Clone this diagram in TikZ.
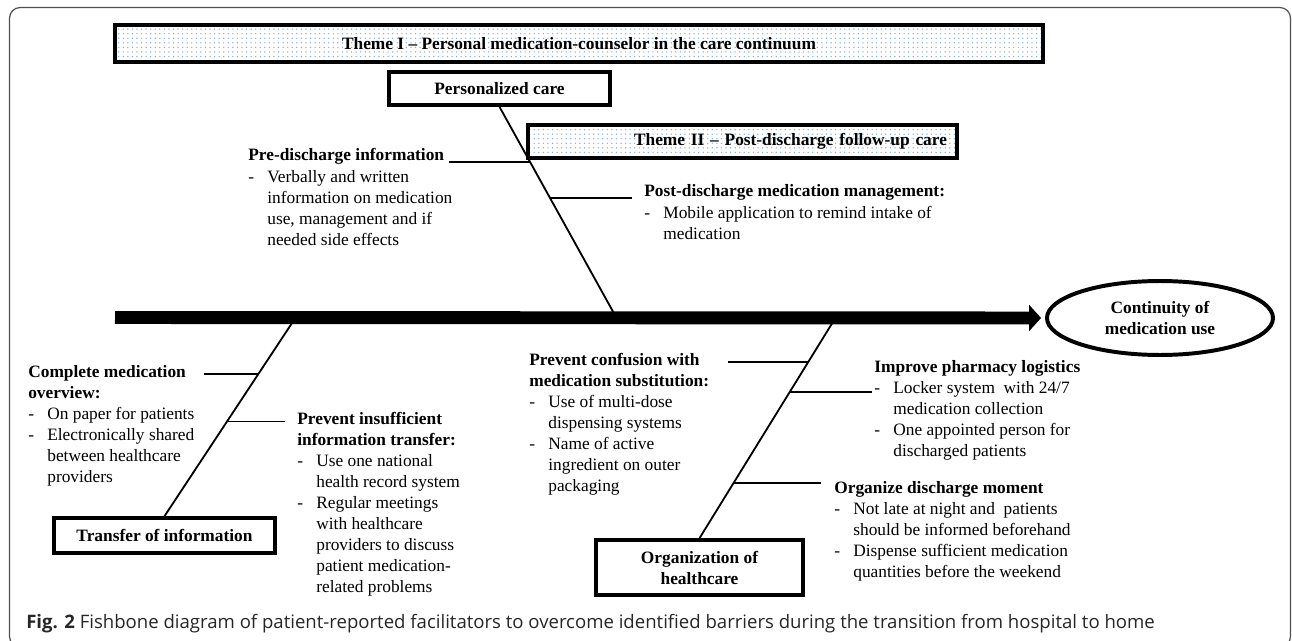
\documentclass[tikz,border=0pt]{standalone}
\usepackage{fontspec}
\setmainfont{Liberation Serif}
\newfontfamily\capfont{Open Sans}
\usetikzlibrary{arrows.meta,shapes.geometric,patterns}

\definecolor{dotblue}{RGB}{140,175,215}
\definecolor{framegray}{RGB}{80,80,80}

\newcommand{\itm}{\makebox[12.5pt][l]{-}}
\newcommand{\ind}{\hspace*{12.5pt}}

\begin{document}
\begin{tikzpicture}[
        x=0.657pt, y=-0.657pt, % one unit = one pixel of the layout
        font=\fontsize{11.4}{13.8}\selectfont,
        box/.style={draw, line width=2.4pt, fill=white, inner sep=0pt, align=center,
            font=\fontsize{11.4}{13.8}\selectfont\bfseries}, % Category boxes
        theme/.style={box, pattern=dots, pattern color=dotblue}, % Theme banners
        goal/.style={ellipse, draw, line width=2.6pt, inner sep=0pt, align=center,
            minimum width=148.5pt, minimum height=48.6pt,
            font=\fontsize{11.4}{13.8}\selectfont\bfseries}, % Fish head
        note/.style={anchor=base west, inner sep=0pt}, % Facilitator lists
        bone/.style={line width=1.2pt},
    ]

    \useasboundingbox (0,0) rectangle (1292,641);
    \begin{scope}
        \clip (0,0) rectangle (1292,641);
        \draw[framegray, line width=0.8pt, rounded corners=7pt] (9.5,7.5) rectangle (1290.5,647);
    \end{scope}

    % head, themes and categories
    \node[goal] (cmu) at (1160,318) {Continuity of\\medication use};
    \node[theme, minimum width=609.7pt, minimum height=24.3pt] (th1) at (579,43.5)
        {Theme I -- Personal medication-counselor in the care continuum};
    \node[box, minimum width=145.2pt, minimum height=21.7pt] (pc) at (499.5,88.5) {Personalized care};
    \node[box, minimum width=145.2pt, minimum height=23pt] (ti) at (164.5,535.5) {Transfer of information};
    \node[box, minimum width=136pt, minimum height=36.1pt] (oh) at (699.5,567.5) {Organization of\\healthcare};

    % bones
    \coordinate (up) at (616,317);
    \coordinate (lo1) at (296,317);
    \coordinate (lo2) at (836,317);
    \draw[bone] (pc.south) -- (up) coordinate[pos=0.262] (j1) coordinate[pos=0.433] (j2);
    \draw[bone] (lo1) -- (ti.north) coordinate[pos=0.285] (j3) coordinate[pos=0.525] (j4);
    \draw[bone] (lo2) -- (oh.north) coordinate[pos=0.203] (j5) coordinate[pos=0.338] (j6)
        coordinate[pos=0.752] (j7);

    \node[theme, minimum height=21.7pt, text width=268.7pt, inner xsep=6.6pt, align=right] (th2)
        at (742.5,141.5) {Theme II -- Post-discharge follow-up care};

    \coordinate (tail) at (115,317.5);
    \draw[line width=8.5pt, -{Triangle[length=7.9pt, width=17pt]}, shorten >=2.6pt] (tail) -- (cmu.west);

    % facilitators
    \node[note] (n1) at (248,161) {\begin{tabular}[t]{@{}l@{}}
        \textbf{Pre-discharge information}\\
        \itm Verbally and written\\
        \ind information on medication\\
        \ind use, management and if\\
        \ind needed side effects
    \end{tabular}};
    \node[note] (n2) at (644,197) {\begin{tabular}[t]{@{}l@{}}
        \textbf{Post-discharge medication management:}\\
        \itm Mobile application to remind intake of\\
        \ind medication
    \end{tabular}};
    \node[note] (n3) at (28,377) {\begin{tabular}[t]{@{}l@{}}
        \textbf{Complete medication}\\
        \textbf{overview:}\\
        \itm On paper for patients\\
        \itm Electronically shared\\
        \ind between healthcare\\
        \ind providers
    \end{tabular}};
    \node[note] (n4) at (297,424) {\begin{tabular}[t]{@{}l@{}}
        \textbf{Prevent insufficient}\\
        \textbf{information transfer:}\\
        \itm Use one national\\
        \ind health record system\\
        \itm Regular meetings\\
        \ind with healthcare\\
        \ind providers to discuss\\
        \ind patient medication-\\
        \ind related problems
    \end{tabular}};
    \node[note] (n5) at (529,365) {\begin{tabular}[t]{@{}l@{}}
        \textbf{Prevent confusion with}\\
        \textbf{medication substitution:}\\
        \itm Use of multi-dose\\
        \ind dispensing systems\\
        \itm Name of active\\
        \ind ingredient on outer\\
        \ind packaging
    \end{tabular}};
    \node[note] (n6) at (874,372) {\begin{tabular}[t]{@{}l@{}}
        \textbf{Improve pharmacy logistics}\\
        \itm Locker system \ with 24/7\\
        \ind medication collection\\
        \itm One appointed person for\\
        \ind discharged patients
    \end{tabular}};
    \node[note] (n7) at (834,493) {\begin{tabular}[t]{@{}l@{}}
        \textbf{Organize discharge moment}\\
        \itm Not late at night and \ patients\\
        \ind should be informed beforehand\\
        \itm Dispense sufficient medication\\
        \ind quantities before the weekend
    \end{tabular}};

    % ribs
    \coordinate (e1) at (449,0);
    \coordinate (e2) at (632,0);
    \coordinate (e3) at (204,0);
    \coordinate (e4) at (285,0);
    \coordinate (e5) at (728,0);
    \coordinate (e6) at (872,0);
    \coordinate (e7) at (821,0);
    \foreach \j/\e in {j1/e1, j2/e2, j3/e3, j4/e4, j5/e5, j6/e6, j7/e7}
        \draw[bone] (\j) -- (\j -| \e);

    \node[anchor=base west, inner sep=0pt, font=\capfont\fontsize{12.2}{14}\selectfont, text=black!85] (cap) at (26,628)
        {\textbf{Fig. 2} Fishbone diagram of patient-reported facilitators to overcome identified barriers during the transition from hospital to home};
\end{tikzpicture}
\end{document}
